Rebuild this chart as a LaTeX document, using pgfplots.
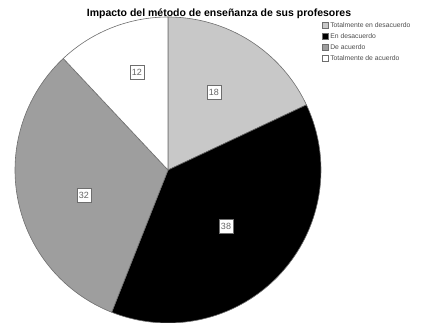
\documentclass[border=0pt]{standalone}
\usepackage{pgfplots}
\pgfplotsset{compat=1.18}
\usepackage{fontspec}
\setmainfont{Liberation Sans}

\definecolor{lightg}{RGB}{200,200,200}
\definecolor{midg}{RGB}{158,158,158}
\definecolor{edgeg}{RGB}{110,110,110}

% slice values (percent), clockwise from the top
\def\va{18}\def\vb{38}\def\vc{32}\def\vd{12}
\def\cx{168}\def\cy{153}\def\rr{153}

\begin{document}
\begin{tikzpicture}
\path[use as bounding box] (0,0) rectangle (429pt,323pt);
\pgfmathsetmacro\aa{90}
\pgfmathsetmacro\ab{\aa-3.6*\va}
\pgfmathsetmacro\ac{\ab-3.6*\vb}
\pgfmathsetmacro\ad{\ac-3.6*\vc}
\pgfmathsetmacro\ae{\ad-3.6*\vd}
\begin{axis}[
  at={(0,0)}, anchor=south west,
  scale only axis,
  width=429pt, height=323pt,
  xmin=0, xmax=429, ymin=0, ymax=323,
  hide axis,
  clip=true,
  legend style={at={(322/429,1-20/323)}, anchor=north west, draw=none, fill=none,
    font=\fontsize{6.8}{7.5}\selectfont, text=black!70, inner sep=0pt,
    row sep=0.6pt, cells={anchor=west}},
  legend image code/.code={\draw[#1, draw=edgeg, line width=0.5pt] (0pt,-2.8pt) rectangle (5.6pt,2.8pt);},
]
\addplot[fill=lightg, draw=edgeg, line width=0.6pt, domain=\ab:\aa, samples=60, variable=\t]
  ({\cx+\rr*cos(\t)},{\cy+\rr*sin(\t)}) -- (axis cs:\cx,\cy) -- cycle;
\addlegendentry{Totalmente en desacuerdo}
\addplot[fill=black, draw=edgeg, line width=0.6pt, domain=\ac:\ab, samples=80, variable=\t]
  ({\cx+\rr*cos(\t)},{\cy+\rr*sin(\t)}) -- (axis cs:\cx,\cy) -- cycle;
\addlegendentry{En desacuerdo}
\addplot[fill=midg, draw=edgeg, line width=0.6pt, domain=\ad:\ac, samples=80, variable=\t]
  ({\cx+\rr*cos(\t)},{\cy+\rr*sin(\t)}) -- (axis cs:\cx,\cy) -- cycle;
\addlegendentry{De acuerdo}
\addplot[fill=white, draw=edgeg, line width=0.6pt, domain=\ae:\ad, samples=40, variable=\t]
  ({\cx+\rr*cos(\t)},{\cy+\rr*sin(\t)}) -- (axis cs:\cx,\cy) -- cycle;
\addlegendentry{Totalmente de acuerdo}

\tikzset{lbl/.style={draw=edgeg, fill=white, text=black!60, line width=0.6pt,
  font=\fontsize{9}{10}\selectfont, inner sep=2pt, minimum height=14pt}}
\node[lbl] at (axis cs:214,231) {\va};
\node[lbl] at (axis cs:226,97) {\vb};
\node[lbl] at (axis cs:84,128) {\vc};
\node[lbl] at (axis cs:137,251) {\vd};

\node[font=\bfseries\fontsize{10.5}{11}\selectfont] at (axis cs:219,309) {Impacto del método de enseñanza de sus profesores};
\end{axis}
\end{tikzpicture}
\end{document}
